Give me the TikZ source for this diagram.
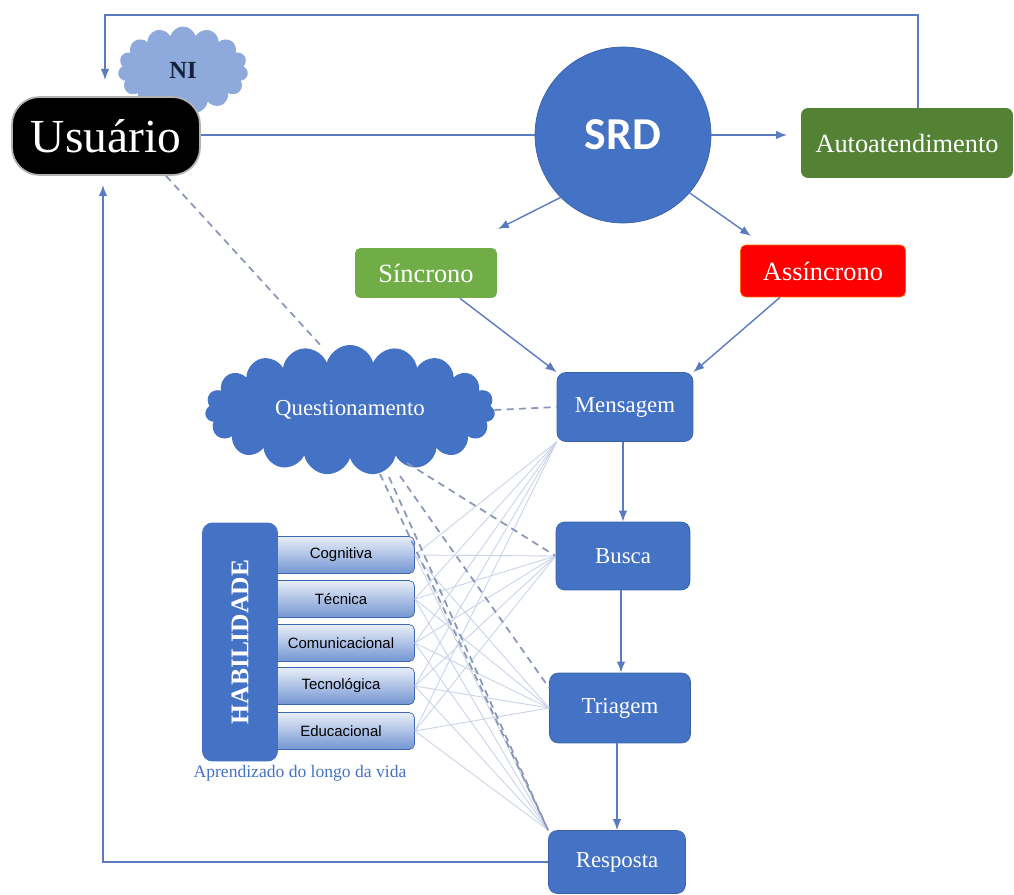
\documentclass[tikz,border=0pt]{standalone}
\usepackage{fontspec}
\setmainfont{Liberation Serif}
\newfontfamily\calibri{Carlito}
\newfontfamily\arialf{Liberation Sans}
\usetikzlibrary{shapes.symbols,arrows.meta}
\definecolor{azul}{HTML}{4472C4}
\definecolor{azulclaro}{HTML}{8EA9DB}
\definecolor{verde}{HTML}{548235}
\definecolor{verdeclaro}{HTML}{70AD47}
\definecolor{linha}{HTML}{5B7BC0}
\definecolor{tracejado}{HTML}{8A97B8}
\definecolor{fio}{HTML}{C9D3E8}

\begin{document}
\begin{tikzpicture}[x=0.02cm,y=-0.02cm,
  caixa/.style={rectangle,rounded corners=5pt,fill=azul,draw=azul!85!black,
    text=white,font=\fontsize{13}{15}\selectfont},
  barra/.style={rectangle,rounded corners=3pt,top color=azul!12,bottom color=azul!75,
    draw=azul!90!black,minimum width=2.94cm,minimum height=0.74cm,
    font=\arialf\fontsize{8.5}{10}\selectfont},
  flow/.style={draw=linha,line width=0.8pt,-{Latex[length=2.2mm,width=1.7mm]}},
  tracos/.style={draw=tracejado,line width=1pt,dash pattern=on 4pt off 3pt},
  fio/.style={draw=fio,line width=0.5pt}]
  \useasboundingbox (0,0) rectangle (1014,895);

  % topo
  \node[cloud,cloud puffs=15,cloud ignores aspect,fill=azulclaro,minimum width=2.6cm,
    minimum height=1.74cm,text=azul!30!black,font=\bfseries\fontsize{14}{16}\selectfont] (ni) at (183,70) {NI};
  \node[fill=black,draw=gray!60,line width=1pt,rounded corners=0.55cm,minimum width=3.76cm,
    minimum height=1.56cm,text=white,font=\fontsize{27}{30}\selectfont] (usuario) at (106,136) {Usuário};
  \node[circle,fill=azul,draw=azul!85!black,minimum size=3.52cm,text=white,
    font=\calibri\bfseries\fontsize{26}{28}\selectfont] (srd) at (623,135) {SRD};
  \node[rectangle,rounded corners=4pt,fill=verde,minimum width=4.24cm,minimum height=1.4cm,
    text=white,font=\fontsize{15}{17}\selectfont] (auto) at (907,143) {Autoatendimento};
  \node[rectangle,rounded corners=3pt,fill=verdeclaro,minimum width=2.84cm,minimum height=1cm,
    text=white,font=\fontsize{15}{17}\selectfont] (sinc) at (426,273) {Síncrono};
  \node[rectangle,rounded corners=3pt,fill=red,draw=orange!80!red,minimum width=3.3cm,
    minimum height=1.04cm,text=white,font=\fontsize{15}{17}\selectfont] (assinc) at (823,271) {Assíncrono};

  % processo
  \node[caixa,minimum width=2.72cm,minimum height=1.38cm] (mens) at (625,407) {Mensagem};
  \node[caixa,minimum width=2.68cm,minimum height=1.36cm] (busca) at (623,556) {Busca};
  \node[caixa,minimum width=2.82cm,minimum height=1.4cm] (triagem) at (620,708) {Triagem};
  \node[caixa,minimum width=2.74cm,minimum height=1.26cm] (resposta) at (617,862) {Resposta};
  \node[cloud,cloud puffs=19,cloud ignores aspect,fill=azul,minimum width=5.8cm,
    minimum height=2.6cm,text=white,font=\fontsize{13}{15}\selectfont] (quest) at (350,410) {Questionamento};

  % habilidades
  \foreach \nome/\y [count=\i] in {Cognitiva/555,Técnica/599,Comunicacional/643,Tecnológica/686,Educacional/731}
    \node[barra] (h\i) at (341,\y) {\nome};
  \node[rectangle,rotate=90,rounded corners=6pt,fill=azul,minimum width=4.78cm,minimum height=1.52cm,
    text=white,font=\bfseries\fontsize{14.5}{16}\selectfont] (hab) at (240,642) {HABILIDADE};
  \node[text=azul,font=\fontsize{10}{12}\selectfont] (apr) at (300,773) {Aprendizado do longo da vida};

  \foreach \i in {1,...,5}
    \foreach \d in {mens.south west,busca.west,triagem.west,resposta.north west}
      \draw[fio] (h\i.east) -- (\d);

  % conexoes
  \coordinate (topin) at (105,80);
  \coordinate (ctop) at (105,15);
  \coordinate (botin) at (103,185);
  \coordinate (a1) at (787,135);
  \coordinate (s1) at (498,229);
  \coordinate (s2) at (751,236);
  \coordinate (q1) at (407,463);
  \coordinate (q2) at (400,476);
  \coordinate (q3) at (389,477);
  \coordinate (q4) at (380,474);

  \draw[draw=linha,line width=0.8pt] (usuario.east |- srd.west) -- (srd.west);
  \draw[flow] (srd.east) -- (a1);
  \draw[flow] ([xshift=0.22cm]auto.north) |- (ctop) -- (topin);
  \draw[flow] (srd.225) -- (s1);
  \draw[flow] (srd.319) -- (s2);
  \draw[flow] ([xshift=0.68cm]sinc.south) -- (mens.north west);
  \draw[flow] ([xshift=-0.86cm]assinc.south) -- (mens.north east);
  \draw[flow] (busca.north |- mens.south) -- (busca.north);
  \draw[flow] ([xshift=-0.04cm]busca.south) -- ([xshift=-0.04cm]busca.south |- triagem.north);
  \draw[flow] (resposta.north |- triagem.south) -- (resposta.north);
  \draw[flow] (resposta.west) -| (botin);

  \draw[tracos] ([xshift=1.2cm]usuario.south) -- ([xshift=-0.6cm]quest.north);
  \draw[tracos] (quest.east) -- (mens.west);
  \draw[tracos] (q1) -- (busca.west);
  \draw[tracos] (q2) -- ([yshift=0.4cm]triagem.west);
  \draw[tracos] (q3) -- (resposta.north west);
  \draw[tracos] (q4) -- (resposta.north west);
\end{tikzpicture}
\end{document}
